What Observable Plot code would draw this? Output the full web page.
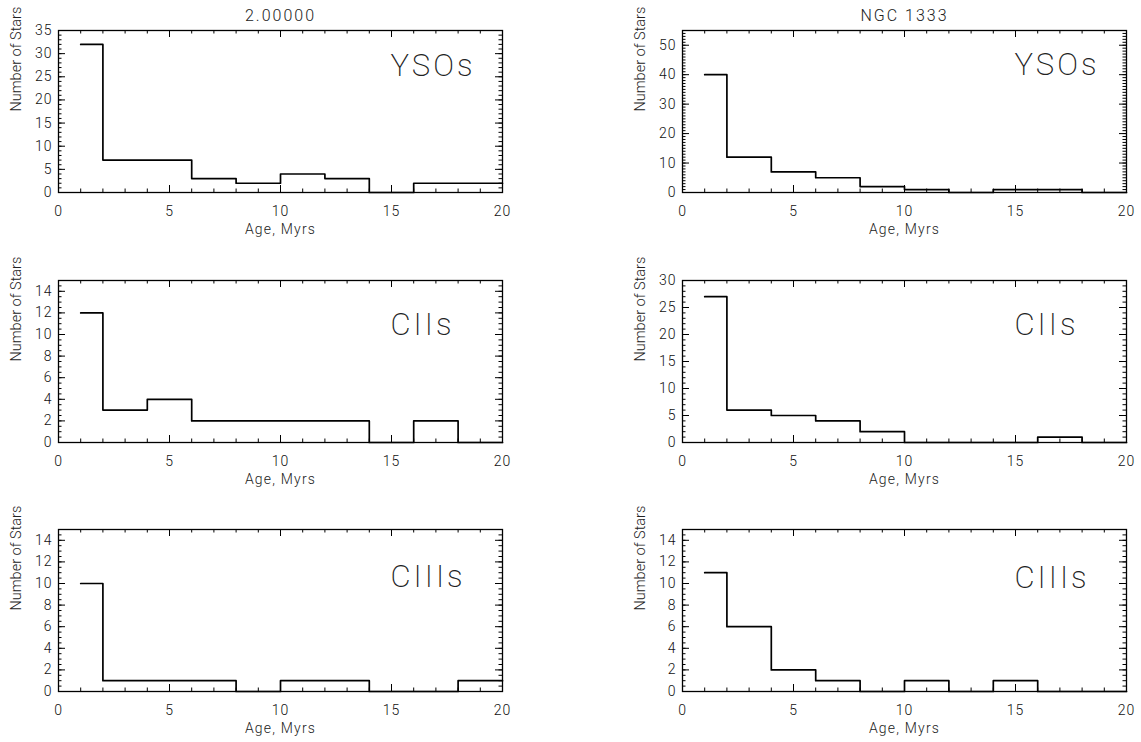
<!DOCTYPE html>
<html><head><meta charset="utf-8">
<script src="https://cdn.jsdelivr.net/npm/d3@7"></script>
<script src="https://cdn.jsdelivr.net/npm/@observablehq/plot@0.6"></script>
<style>
body{margin:0;background:#fff;}
#wrap{position:relative;width:1141px;height:742px;background:#fff;}
#wrap svg{position:absolute;}
</style></head><body><div id="wrap"></div>
<script>
// Age bins (Myr): first bin 1-2, then 2-Myr bins up to 20
const binStarts = [1, 2, 4, 6, 8, 10, 12, 14, 16, 18];
const binEnd = 20;

// Left column (title "2.00000")
const leftYSOs  = [32, 7, 7, 3, 2, 4, 3, 0, 2, 2];
const leftCIIs  = [12, 3, 4, 2, 2, 2, 2, 0, 2, 0];
const leftCIIIs = [10, 1, 1, 1, 0, 1, 1, 0, 0, 1];

// Right column (title "NGC 1333")
const rightYSOs  = [40, 12, 7, 5, 2, 1, 0, 1, 1, 0];
const rightCIIs  = [27, 6, 5, 4, 2, 0, 0, 0, 1, 0];
const rightCIIIs = [11, 6, 2, 1, 0, 1, 0, 1, 0, 0];

const columnTitles = ["2.00000", "NGC 1333"];
const rowLabels = ["YSOs", "CIIs", "CIIIs"];
const xLabel = "Age, Myrs";
const yLabel = "Number of Stars";

const xMajor = [0, 5, 10, 15, 20];
const xMinor = d3.range(0, 21, 1);
const xMax = 20;

// per-panel y axis settings
const yAxes = {
  leftYSOs:   {max: 35, major: 5,  minor: 1},
  rightYSOs:  {max: 55, major: 10, minor: 1},
  leftCIIs:   {max: 15, major: 2,  minor: 0.5},
  rightCIIs:  {max: 30, major: 5,  minor: 1},
  leftCIIIs:  {max: 15, major: 2,  minor: 0.5},
  rightCIIIs: {max: 15, major: 2,  minor: 0.5}
};

const plotW = 444, plotH = 162;
const wrap = document.getElementById("wrap");
const FONT = "Roboto, 'Liberation Sans', sans-serif";

function panel({counts, axis, title, label, labelDy, left, top, marginLeft, marginRight}) {
  const pts = binStarts.map((x, i) => ({x, y: counts[i]}));
  pts.push({x: binEnd, y: counts[counts.length - 1]});
  const yMajor = d3.range(0, axis.max + 1e-9, axis.major);
  const yMinor = d3.range(0, axis.max + 1e-9, axis.minor);
  const majL = 7, minL = 3.5;
  // inward tick lengths expressed in data units of each scale
  const ty = L => axis.max * L / plotH;
  const tx = L => xMax * L / plotW;
  const tk = {stroke: "black", strokeWidth: 1};
  const marks = [
    Plot.frame({fill: "none", stroke: "black", strokeWidth: 1.3}),
    Plot.axisX({ticks: xMajor, tickSize: 0, tickPadding: 14, label: null, fontSize: 14, fontWeight: 300}),
    Plot.axisY({ticks: yMajor, tickSize: 0, tickPadding: 6, label: null, fontSize: 14, fontWeight: 300}),
    Plot.ruleX(xMinor, {x: d => d, y1: 0, y2: ty(minL), ...tk}),
    Plot.ruleX(xMinor, {x: d => d, y1: axis.max, y2: axis.max - ty(minL), ...tk}),
    Plot.ruleX(xMajor, {x: d => d, y1: 0, y2: ty(majL), ...tk}),
    Plot.ruleX(xMajor, {x: d => d, y1: axis.max, y2: axis.max - ty(majL), ...tk}),
    Plot.ruleY(yMinor, {y: d => d, x1: 0, x2: tx(minL), ...tk}),
    Plot.ruleY(yMinor, {y: d => d, x1: xMax, x2: xMax - tx(minL), ...tk}),
    Plot.ruleY(yMajor, {y: d => d, x1: 0, x2: tx(majL), ...tk}),
    Plot.ruleY(yMajor, {y: d => d, x1: xMax, x2: xMax - tx(majL), ...tk}),
    Plot.line(pts, {x: "x", y: "y", curve: "step-after", strokeWidth: 1.7, stroke: "black"}),
    Plot.text([label], {frameAnchor: "top-left", dx: 332, dy: labelDy, textAnchor: "start", lineAnchor: "middle", fontSize: 31, fontWeight: 200, fill: "#222"}),
    Plot.text([xLabel], {frameAnchor: "bottom", dy: 37, lineAnchor: "middle", fontSize: 14, fontWeight: 300, fill: "#222"}),
    Plot.text([yLabel], {frameAnchor: "left", dx: -42, rotate: -90, lineAnchor: "middle", fontSize: 14.5, fontWeight: 300, fill: "#222"})
  ];
  if (title) marks.push(Plot.text([title], {frameAnchor: "top", dy: -15, lineAnchor: "middle", fontSize: 16, fontWeight: 300, fill: "#222"}));
  const svg = Plot.plot({
    width: marginLeft + plotW + marginRight,
    height: 30 + plotH + 45,
    marginLeft, marginRight, marginTop: 30, marginBottom: 45,
    style: {fontFamily: FONT, fontSize: "14px", color: "#111", background: "transparent", overflow: "visible"},
    x: {domain: [0, xMax]},
    y: {domain: [0, axis.max]},
    marks
  });
  const s = d3.select(svg);
  s.selectAll('g[aria-label="x-axis tick label"] text, g[aria-label="y-axis tick label"] text').style("letter-spacing", "1px");
  s.selectAll('g[font-size="31"] text').style("letter-spacing", "3px");
  s.selectAll('g[font-size="16"] text').style("letter-spacing", "2px");
  s.selectAll('text').filter(function() { return this.textContent === xLabel; }).style("letter-spacing", "1.2px");
  svg.style.left = left + "px";
  svg.style.top = top + "px";
  wrap.appendChild(svg);
}

const rowsTop = [0, 250, 499];
const labelDys = [[36, 35], [45, 45], [48, 49]];
const leftData = [leftYSOs, leftCIIs, leftCIIIs];
const rightData = [rightYSOs, rightCIIs, rightCIIIs];
const leftAxes = [yAxes.leftYSOs, yAxes.leftCIIs, yAxes.leftCIIIs];
const rightAxes = [yAxes.rightYSOs, yAxes.rightCIIs, yAxes.rightCIIIs];

for (let r = 0; r < 3; r++) {
  panel({counts: leftData[r], axis: leftAxes[r], title: r === 0 ? columnTitles[0] : null,
         label: rowLabels[r], labelDy: labelDys[r][0], left: 0, top: rowsTop[r], marginLeft: 58, marginRight: 20});
  panel({counts: rightData[r], axis: rightAxes[r], title: r === 0 ? columnTitles[1] : null,
         label: rowLabels[r], labelDy: labelDys[r][1], left: 620, top: rowsTop[r], marginLeft: 62, marginRight: 15});
}
</script></body></html>
